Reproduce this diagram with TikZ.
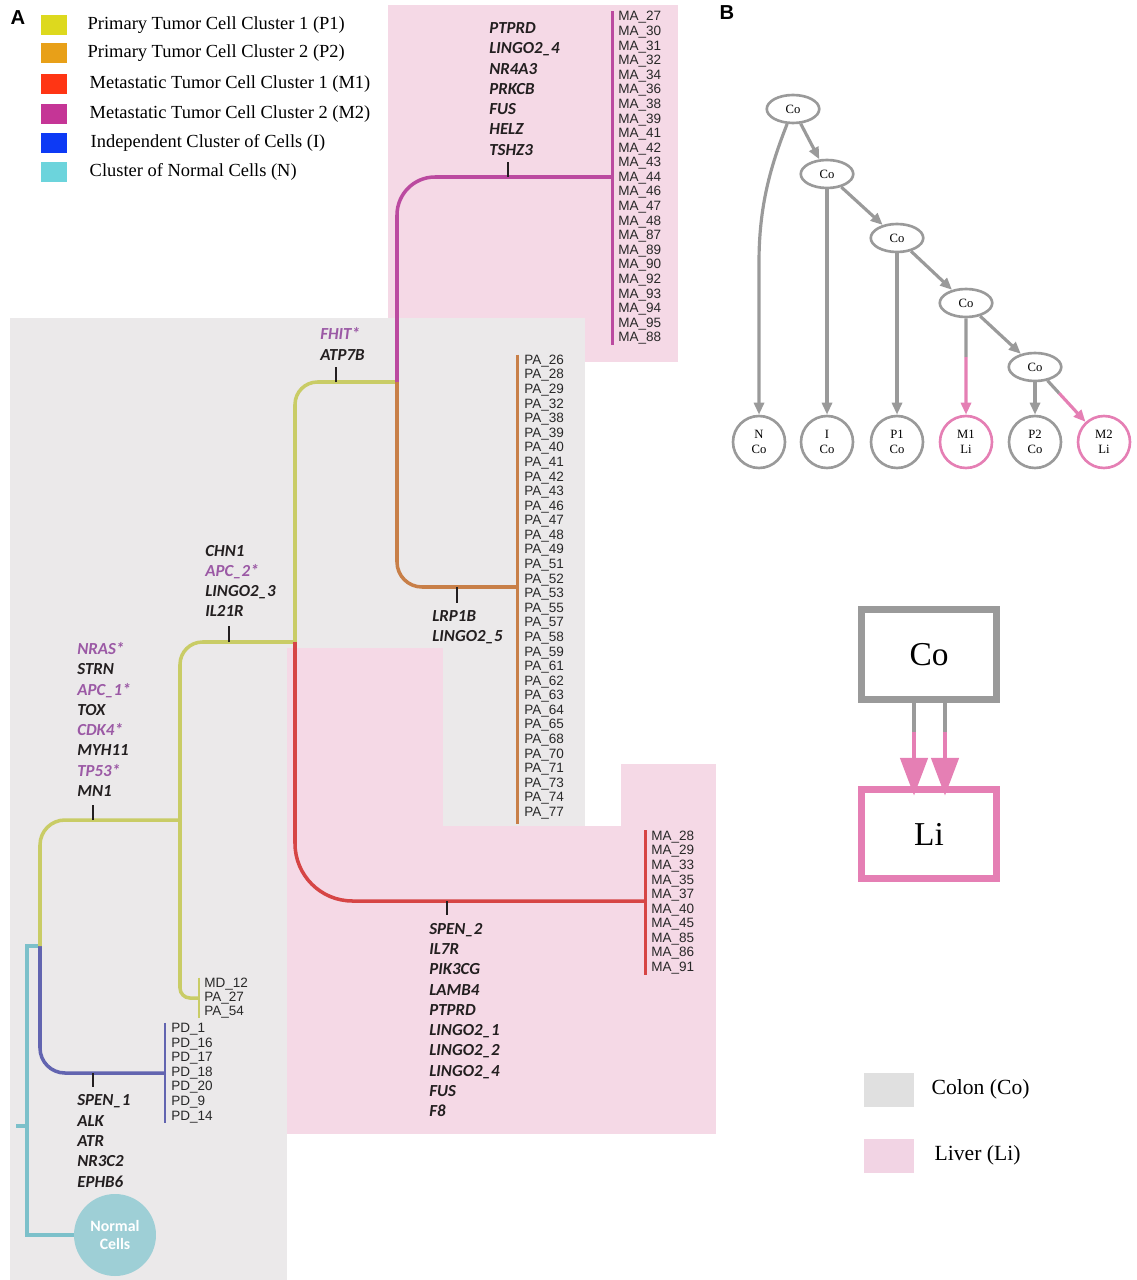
\documentclass[tikz,border=0pt]{standalone}
\usepackage{fontspec}
\setmainfont{Liberation Serif}
\newfontfamily\genefont{Carlito}
\newfontfamily\arialfont{Liberation Sans}
\usepackage{tikz}
\usetikzlibrary{arrows.meta,positioning,calc,shapes.geometric}
\definecolor{colongrey}{RGB}{235,233,234}
\definecolor{liverpink}{RGB}{245,217,230}
\definecolor{keyPone}{RGB}{221,217,30}
\definecolor{keyPtwo}{RGB}{232,160,24}
\definecolor{keyMone}{RGB}{255,53,20}
\definecolor{keyMtwo}{RGB}{197,53,150}
\definecolor{keyI}{RGB}{13,58,245}
\definecolor{keyN}{RGB}{108,212,220}
\definecolor{brPone}{RGB}{201,204,102}
\definecolor{brPtwo}{RGB}{200,127,72}
\definecolor{brMone}{RGB}{214,69,69}
\definecolor{brMtwo}{RGB}{187,74,160}
\definecolor{brI}{RGB}{98,100,176}
\definecolor{brN}{RGB}{124,192,202}
\definecolor{normalfill}{RGB}{158,207,214}
\definecolor{mutpurple}{RGB}{155,89,165}
\definecolor{genetext}{RGB}{35,31,32}
\definecolor{sampletext}{RGB}{40,40,40}
\definecolor{treegrey}{RGB}{154,154,154}
\definecolor{treepink}{RGB}{229,127,180}
\definecolor{keycolon}{RGB}{224,224,224}
\definecolor{keyliver}{RGB}{242,212,228}
\tikzstyle{migarrow} = [-{Triangle[length=0.76cm,width=0.54cm]}, line width=2.8pt, draw=treepink]

\begin{document}
\begin{tikzpicture}[
    x=0.02cm, y=-0.02cm,
    branch/.style={line width=2pt},
    samplebar/.style={line width=1.7pt},
    mutick/.style={line width=0.8pt, draw=genetext},
    genes/.style={font={\genefont\bfseries\itshape\fontsize{9.6}{11.55}\selectfont},
                  text=genetext, align=left, anchor=west, inner sep=0pt},
    samplelist/.style={font={\arialfont\fontsize{7.7}{8.3}\selectfont},
                    text=sampletext, align=left, anchor=west, inner sep=0pt},
    keybox/.style={minimum width=0.54cm, minimum height=0.4cm, inner sep=0pt, fill=#1},
    keytext/.style={font=\fontsize{10.5}{12}\selectfont, anchor=west, inner sep=0pt},
    panel/.style={font={\arialfont\bfseries\fontsize{11.5}{13}\selectfont}, inner sep=0pt},
    cotree/.style={ellipse, draw=treegrey, line width=1.5pt, minimum width=1.05cm,
                   minimum height=0.56cm, inner sep=0pt, font=\fontsize{7.2}{8}\selectfont},
    leaf/.style={circle, draw=#1, line width=1.5pt, minimum size=1.04cm, inner sep=0pt,
                 align=center, font=\fontsize{7.2}{8.4}\selectfont},
    treeline/.style={line width=1.8pt, draw=treegrey},
    treearrow/.style={-{Triangle[length=0.24cm,width=0.2cm]}, line width=1.8pt, draw=#1},
    sitebox/.style={rectangle, draw=#1, line width=4pt, minimum width=2.7cm,
                    minimum height=1.79cm, font=\fontsize{19}{22}\selectfont},
    sitekey/.style={minimum width=1cm, minimum height=0.68cm, inner sep=0pt, fill=#1},
    sitetext/.style={font=\fontsize{12.3}{15}\selectfont, anchor=west, inner sep=0pt}
]
\useasboundingbox (0,0) rectangle (1136,1280);

% tissue backgrounds
\fill[liverpink] (388,5) rectangle (678,362);
\fill[colongrey] (10,318) rectangle (287,1280);
\fill[colongrey] (287,318) rectangle (585,826);
\fill[liverpink] (287,648) rectangle (443,826);
\fill[liverpink] (621,764) rectangle (716,826);
\fill[liverpink] (287,826) rectangle (716,1134);

% legend A
\node[panel] (labA) at (18,18) {A};
\node[keybox=keyPone] (k1) at (54,25) {};
\node[keytext, right=0.39cm of k1] (t1) {Primary Tumor Cell Cluster 1 (P1)};
\node[keybox=keyPtwo] (k2) at (54,53) {};
\node[keytext, right=0.39cm of k2] (t2) {Primary Tumor Cell Cluster 2 (P2)};
\node[keybox=keyMone] (k3) at (54,84) {};
\node[keytext, right=0.43cm of k3] (t3) {Metastatic Tumor Cell Cluster 1 (M1)};
\node[keybox=keyMtwo] (k4) at (54,114) {};
\node[keytext, right=0.43cm of k4] (t4) {Metastatic Tumor Cell Cluster 2 (M2)};
\node[keybox=keyI] (k5) at (54,143) {};
\node[keytext, right=0.45cm of k5] (t5) {Independent Cluster of Cells (I)};
\node[keybox=keyN] (k6) at (54,172) {};
\node[keytext, right=0.43cm of k6] (t6) {Cluster of Normal Cells (N)};

% tree branch points
\coordinate (root) at (40,946);
\coordinate (jA) at (180,820);
\coordinate (jB) at (295,642);
\coordinate (jC) at (397,382);
\coordinate (endPone) at (199,998);
\coordinate (endI) at (165,1073);
\coordinate (endMone) at (645,901);
\coordinate (endPtwo) at (517,587);
\coordinate (endMtwo) at (612,177);

\node[circle, fill=normalfill, minimum size=1.64cm, inner sep=0pt, text=white, align=center,
      font={\genefont\bfseries\fontsize{9}{10.2}\selectfont}] (normal) at (115,1235) {Normal\\Cells};

\draw[branch, brN] (root) -- ++(-13,0) |- (normal);
\draw[branch, brN] (16,1126) -- (27,1126);
\draw[branch, brI, rounded corners=0.5cm] (root) |- (endI);
\draw[branch, brPone, rounded corners=0.5cm] (root) |- (jA);
\draw[branch, brPone, rounded corners=0.45cm] (jA) |- (jB);
\draw[branch, brPone, rounded corners=0.2cm] (jA) |- (endPone);
\draw[branch, brPone, rounded corners=0.45cm] (jB) |- (jC);
\draw[branch, brMone, rounded corners=1.15cm] (jB) |- (endMone);
\draw[branch, brMtwo, rounded corners=0.76cm] (jC) |- (endMtwo);
\draw[branch, brPtwo, rounded corners=0.5cm] (jC) |- (endPtwo);

% mutation ticks
\draw[mutick] (508,177) -- (508,162);
\draw[mutick] (336,382) -- (336,367);
\draw[mutick] (229,642) -- (229,626);
\draw[mutick] (93,820) -- (93,805);
\draw[mutick] (457,587) -- (457,603);
\draw[mutick] (447,901) -- (447,915);
\draw[mutick] (93,1073) -- (93,1087);

% mutated genes
\node[genes] (gMtwo) at (489,89) {PTPRD\\LINGO2\_4\\NR4A3\\PRKCB\\FUS\\HELZ\\TSHZ3};
\node[genes] (gTrunk) at (320,344) {\textcolor{mutpurple}{FHIT*}\\ATP7B};
\node[genes] (gPa) at (205,581) {CHN1\\\textcolor{mutpurple}{APC\_2*}\\LINGO2\_3\\IL21R};
\node[genes] (gPb) at (77,719.5) {\textcolor{mutpurple}{NRAS*}\\STRN\\\textcolor{mutpurple}{APC\_1*}\\TOX\\\textcolor{mutpurple}{CDK4*}\\MYH11\\\textcolor{mutpurple}{TP53*}\\MN1};
\node[genes] (gPtwo) at (432,627) {LRP1B\\LINGO2\_5};
\node[genes] (gMone) at (429,1020) {SPEN\_2\\IL7R\\PIK3CG\\LAMB4\\PTPRD\\LINGO2\_1\\LINGO2\_2\\LINGO2\_4\\FUS\\F8};
\node[genes] (gI) at (77,1141) {SPEN\_1\\ALK\\ATR\\NR3C2\\EPHB6};

% sample lists
\node[samplelist] (sMtwo) at (618,178) {MA\_27\\MA\_30\\MA\_31\\MA\_32\\MA\_34\\MA\_36\\MA\_38\\MA\_39\\MA\_41\\MA\_42\\MA\_43\\MA\_44\\MA\_46\\MA\_47\\MA\_48\\MA\_87\\MA\_89\\MA\_90\\MA\_92\\MA\_93\\MA\_94\\MA\_95\\MA\_88};
\node[samplelist] (sPtwo) at (524,587) {PA\_26\\PA\_28\\PA\_29\\PA\_32\\PA\_38\\PA\_39\\PA\_40\\PA\_41\\PA\_42\\PA\_43\\PA\_46\\PA\_47\\PA\_48\\PA\_49\\PA\_51\\PA\_52\\PA\_53\\PA\_55\\PA\_57\\PA\_58\\PA\_59\\PA\_61\\PA\_62\\PA\_63\\PA\_64\\PA\_65\\PA\_68\\PA\_70\\PA\_71\\PA\_73\\PA\_74\\PA\_77};
\node[samplelist] (sMone) at (651,902.5) {MA\_28\\MA\_29\\MA\_33\\MA\_35\\MA\_37\\MA\_40\\MA\_45\\MA\_85\\MA\_86\\MA\_91};
\node[samplelist, font={\arialfont\fontsize{7.7}{8}\selectfont}] (sPone) at (204,998) {MD\_12\\PA\_27\\PA\_54};
\node[samplelist] (sI) at (171,1073) {PD\_1\\PD\_16\\PD\_17\\PD\_18\\PD\_20\\PD\_9\\PD\_14};

\draw[samplebar, brMtwo] (endMtwo |- sMtwo.north) -- (endMtwo |- sMtwo.south);
\draw[samplebar, brPtwo] (endPtwo |- sPtwo.north) -- ([yshift=-0.1cm]endPtwo |- sPtwo.south);
\draw[samplebar, brMone] (endMone |- sMone.north) -- (endMone |- sMone.south);
\draw[samplebar, brPone] (endPone |- sPone.north) -- (endPone |- sPone.south);
\draw[samplebar, brI] (endI |- sI.north) -- (endI |- sI.south);

% panel B: migration tree
\node[panel] (labB) at (727,13) {B};
\node[cotree] (co1) at (793,109) {Co};
\node[cotree] (co2) at (827,174) {Co};
\node[cotree] (co3) at (897,238) {Co};
\node[cotree] (co4) at (966,303) {Co};
\node[cotree] (co5) at (1035,367) {Co};
\node[leaf=treegrey] (lfN) at (759,442) {N\\Co};
\node[leaf=treegrey] (lfI) at (827,442) {I\\Co};
\node[leaf=treegrey] (lfPone) at (897,442) {P1\\Co};
\node[leaf=treepink] (lfMone) at (966,442) {M1\\Li};
\node[leaf=treegrey] (lfPtwo) at (1035,442) {P2\\Co};
\node[leaf=treepink] (lfMtwo) at (1104,442) {M2\\Li};

\coordinate (bendN) at (759,262);
\draw[treearrow=treegrey] (co1) .. controls (771,165) and (759,205) .. (bendN) -- (lfN);
\draw[treearrow=treegrey] (co1) -- (co2);
\draw[treearrow=treegrey] (co2) -- (lfI);
\draw[treearrow=treegrey] (co2) -- (co3);
\draw[treearrow=treegrey] (co3) -- (lfPone);
\draw[treearrow=treegrey] (co3) -- (co4);
\draw[treearrow=treegrey] (co4) -- (co5);
\draw[treearrow=treegrey] (co5) -- (lfPtwo);
\coordinate (midMone) at ($(co4)!0.39!(lfMone)$);
\coordinate (midMtwo) at ($(co5)!0.35!(lfMtwo)$);
\draw[treeline] (co4) -- (midMone);
\draw[treearrow=treepink] (midMone) -- (lfMone);
\draw[treeline] (co5) -- (midMtwo);
\draw[treearrow=treepink] (midMtwo) -- (lfMtwo);

% site graph
\node[sitebox=treegrey] (coBox) at (929,654.5) {Co};
\node[sitebox=treepink] (liBox) at (929,834) {Li};
\coordinate (aL) at ([xshift=-0.3cm]coBox.south);
\coordinate (aR) at ([xshift=0.32cm]coBox.south);
\coordinate (aLm) at ([yshift=-0.58cm]aL);
\coordinate (aRm) at ([yshift=-0.58cm]aR);
\coordinate (tipL) at ([xshift=-0.3cm,yshift=-0.2cm]liBox.north);
\coordinate (tipR) at ([xshift=0.32cm,yshift=-0.2cm]liBox.north);
\draw[line width=2.8pt, treegrey] (aL) -- (aLm);
\draw[line width=2.8pt, treegrey] (aR) -- (aRm);
\draw[migarrow] (aLm) -- (tipL);
\draw[migarrow] (aRm) -- (tipR);

% site legend
\node[sitekey=keycolon] (kCo) at (889,1089.5) {};
\node[sitetext, right=0.34cm of kCo] (tCo) {Colon (Co)};
\node[sitekey=keyliver] (kLi) at (889,1155.5) {};
\node[sitetext, right=0.4cm of kLi] (tLi) {Liver (Li)};
\end{tikzpicture}
\end{document}
